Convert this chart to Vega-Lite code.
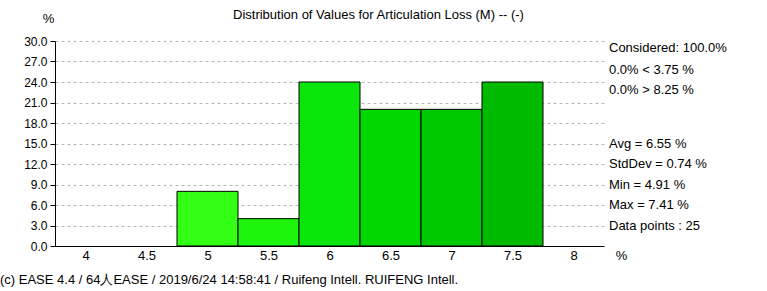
{
  "$schema": "https://vega.github.io/schema/vega-lite/v6.json",
  "autosize": {"type": "none"},
  "width": 549,
  "height": 205,
  "padding": {"left": 55, "top": 41, "right": 163, "bottom": 45},
  "background": "white",
  "config": {
    "view": {"stroke": null},
    "font": "Liberation Sans",
    "axis": {"labelFont": "Liberation Sans", "labelFontSize": 13, "labelColor": "black", "titleFont": "Liberation Sans", "titleFontSize": 13, "titleFontWeight": "normal", "titleColor": "black", "domainColor": "black", "tickColor": "black", "labelOverlap": false}
  },
  "title": {"text": "Distribution of Values for Articulation Loss (M)  -- (-)", "anchor": "start", "frame": "group", "dx": 178, "offset": -10, "fontSize": 13, "fontWeight": "normal", "font": "Liberation Sans", "color": "black"},
  "datasets": {
    "bins": [
      {"bin": "5", "start": 4.75, "end": 5.25, "pct": 8},
      {"bin": "5.5", "start": 5.25, "end": 5.75, "pct": 4},
      {"bin": "6", "start": 5.75, "end": 6.25, "pct": 24},
      {"bin": "6.5", "start": 6.25, "end": 6.75, "pct": 20},
      {"bin": "7", "start": 6.75, "end": 7.25, "pct": 20},
      {"bin": "7.5", "start": 7.25, "end": 7.75, "pct": 24}
    ],
    "stats": [
      {"label": "Considered: 100.0%", "pos": 28.95},
      {"label": "0.0%  < 3.75 %", "pos": 25.8},
      {"label": "0.0%  > 8.25 %", "pos": 22.8},
      {"label": "Avg = 6.55 %", "pos": 15},
      {"label": "StdDev = 0.74 %", "pos": 12},
      {"label": "Min = 4.91 %", "pos": 9},
      {"label": "Max = 7.41 %", "pos": 6},
      {"label": "Data points : 25", "pos": 3}
    ],
    "footer": [
      {"label": "(c) EASE 4.4  / 64人EASE  / 2019/6/24 14:58:41 / Ruifeng Intell. RUIFENG Intell."}
    ]
  },
  "layer": [
    {
      "data": {"name": "bins"},
      "mark": {"type": "rect", "stroke": "black", "strokeWidth": 1, "opacity": 1},
      "encoding": {
        "x": {"field": "start", "type": "quantitative",
          "scale": {"domain": [3.75, 8.25], "nice": false, "zero": false},
          "axis": {"values": [4, 4.5, 5, 5.5, 6, 6.5, 7, 7.5, 8], "tickCount": 20, "format": "~g", "ticks": false, "grid": false, "labelPadding": 3, "labelOverlap": false, "title": "%", "titleX": 566, "titleY": 3, "titleAlign": "center", "titleBaseline": "top"}},
        "x2": {"field": "end"},
        "y": {"field": "pct", "type": "quantitative",
          "scale": {"domain": [0, 30], "nice": false},
          "axis": {"values": [0, 3, 6, 9, 12, 15, 18, 21, 24, 27, 30], "tickCount": 20, "format": ".1f", "grid": true, "gridDash": [3, 3], "gridColor": "#b8b8b8", "tickSize": 5, "labelPadding": 3, "labelOverlap": false, "labelFontSize": 12, "title": "%", "titleAngle": 0, "titleX": -7, "titleY": -23, "titleAlign": "center", "titleBaseline": "middle"}},
        "y2": {"datum": 0},
        "color": {"field": "bin", "type": "nominal", "legend": null,
          "scale": {"domain": ["5", "5.5", "6", "6.5", "7", "7.5"], "range": ["#33ff14", "#1ef50f", "#0ae60a", "#00d600", "#00c800", "#00ba00"]}}
      }
    },
    {
      "mark": {"type": "rule", "color": "black", "strokeWidth": 1},
      "encoding": {"x": {"datum": 8.25}, "y": {"datum": 0}, "y2": {"datum": 30}}
    },
    {
      "data": {"name": "stats"},
      "mark": {"type": "text", "align": "left", "baseline": "middle", "dx": 5, "fontSize": 13, "color": "black", "font": "Liberation Sans"},
      "encoding": {
        "x": {"datum": 8.25},
        "y": {"field": "pos", "type": "quantitative"},
        "text": {"field": "label"}
      }
    },
    {
      "data": {"name": "footer"},
      "mark": {"type": "text", "align": "left", "baseline": "middle", "dx": -55, "fontSize": 13, "color": "black", "font": "Liberation Sans"},
      "encoding": {
        "x": {"datum": 3.75},
        "y": {"datum": -4.98},
        "text": {"field": "label"}
      }
    }
  ]
}
